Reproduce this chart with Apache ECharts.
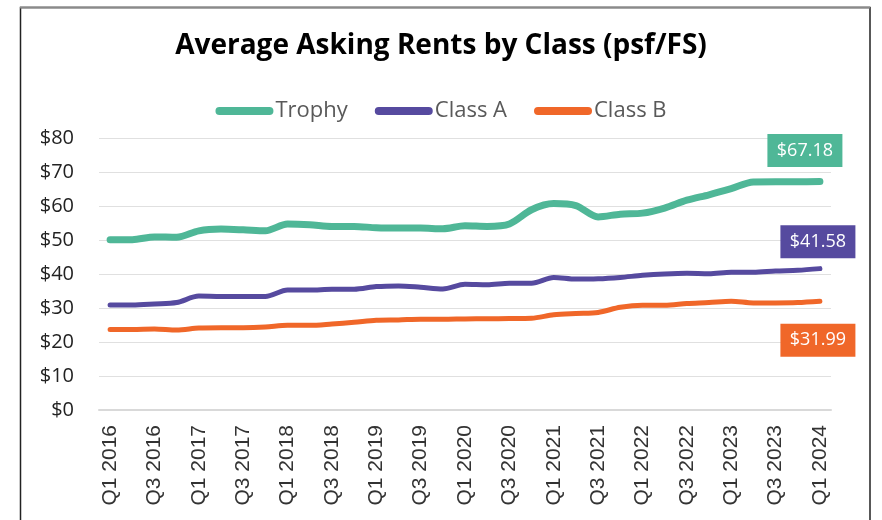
<!DOCTYPE html>
<html>
<head>
<meta charset="utf-8">
<script src="https://cdn.jsdelivr.net/npm/echarts@6/dist/echarts.min.js"></script>
<style>
  html, body { margin: 0; padding: 0; background: #fff; }
  #chart { width: 882px; height: 520px; }
</style>
</head>
<body>
<div id="chart"></div>
<script>
const quarters = []
for (let y = 2016; y <= 2024; y++) {
  for (let q = 1; q <= 4; q++) {
    if (y === 2024 && q > 1) break
    quarters.push('Q' + q + ' ' + y)
  }
}

const trophy = [50.1, 50.1, 50.9, 50.8, 52.7, 53.2, 53.0, 52.7, 54.7, 54.5, 54.0, 54.0, 53.6, 53.5, 53.5, 53.3,
  54.2, 54.0, 54.7, 58.9, 60.7, 60.1, 56.8, 57.6, 57.9, 59.4, 61.7, 63.3, 65.1, 67.05, 67.1, 67.1, 67.18]
const classA = [30.9, 30.9, 31.2, 31.6, 33.5, 33.4, 33.4, 33.4, 35.3, 35.3, 35.5, 35.5, 36.3, 36.5, 36.1, 35.6,
  37.0, 36.85, 37.3, 37.3, 39.0, 38.5, 38.6, 39.0, 39.6, 40.0, 40.2, 40.1, 40.5, 40.5, 40.9, 41.1, 41.58]
const classB = [23.7, 23.7, 23.8, 23.5, 24.1, 24.2, 24.2, 24.4, 24.9, 24.9, 25.3, 25.8, 26.4, 26.5, 26.7, 26.7,
  26.8, 26.85, 26.9, 27.0, 28.0, 28.4, 28.7, 30.2, 30.8, 30.8, 31.3, 31.6, 32.0, 31.5, 31.5, 31.6, 31.99]

const colors = { trophy: '#4fb797', a: '#564a9f', b: '#f06729' }
const last = quarters.length - 1

// boxed value at the last point of each line
function endBox(values, color, offset) {
  const v = values[last]
  return {
    silent: true,
    animation: false,
    data: [{
      coord: [quarters[last], v], value: v,
      symbol: 'rect', symbolSize: [75, 33], symbolOffset: offset,
      itemStyle: { color },
      label: { show: true, position: 'inside', color: '#fff', fontSize: 18, fontFamily: 'Open Sans',
        formatter: p => '$' + p.value.toFixed(2) }
    }]
  }
}

const legendIcon = 'path://M4,0 H54 A4,4 0 0 1 54,8 H4 A4,4 0 0 1 4,0 Z'

const chart = echarts.init(document.getElementById('chart'))
chart.setOption({
  animation: false,
  backgroundColor: '#fff',
  title: {
    text: 'Average Asking Rents by Class (psf/FS)', left: 'center', top: 27,
    textStyle: { fontFamily: 'Open Sans', fontWeight: 'bold', fontSize: 28, color: '#000' }
  },
  legend: {
    top: 95, left: 'center', itemWidth: 58, itemHeight: 8, itemGap: 27,
    icon: legendIcon,
    textStyle: { fontFamily: 'Open Sans', fontSize: 22, color: '#595959', padding: [0, 0, 0, -3] },
    data: ['Trophy', 'Class A', 'Class B']
  },
  grid: { left: 99, right: 51, top: 138, bottom: 110 },
  xAxis: {
    type: 'category', data: quarters, boundaryGap: true,
    axisLine: { lineStyle: { color: '#d9d9d9', width: 2 } },
    axisTick: { show: false },
    axisLabel: { rotate: 90, interval: 1, margin: 15, fontSize: 21, fontFamily: 'Liberation Sans', color: '#333' }
  },
  yAxis: {
    type: 'value', min: 0, max: 80, interval: 10,
    axisLine: { show: false }, axisTick: { show: false },
    axisLabel: { formatter: '${value}', margin: 25, fontSize: 20, fontFamily: 'Open Sans', color: '#222' },
    splitLine: { lineStyle: { color: '#e0e0e0', width: 1 } }
  },
  series: [
    { name: 'Trophy', type: 'line', data: trophy, smooth: 0.3, showSymbol: false, color: colors.trophy,
      lineStyle: { width: 7, cap: 'round', join: 'round' }, markPoint: endBox(trophy, colors.trophy, [-15, -31]) },
    { name: 'Class A', type: 'line', data: classA, smooth: 0.3, showSymbol: false, color: colors.a,
      lineStyle: { width: 5, cap: 'round', join: 'round' }, markPoint: endBox(classA, colors.a, [-2, -27]) },
    { name: 'Class B', type: 'line', data: classB, smooth: 0.3, showSymbol: false, color: colors.b,
      lineStyle: { width: 5, cap: 'round', join: 'round' }, markPoint: endBox(classB, colors.b, [-2, 39]) }
  ],
  graphic: [
    { type: 'rect', silent: true, shape: { x: 20.5, y: 7.5, width: 849.5, height: 620 },
      style: { fill: 'none', stroke: '#222', lineWidth: 1.5 } },
    { type: 'line', silent: true, shape: { x1: 20, y1: 7.5, x2: 870, y2: 7.5 },
      style: { stroke: '#8a8a8a', lineWidth: 2 } }
  ]
})
</script>
</body>
</html>
